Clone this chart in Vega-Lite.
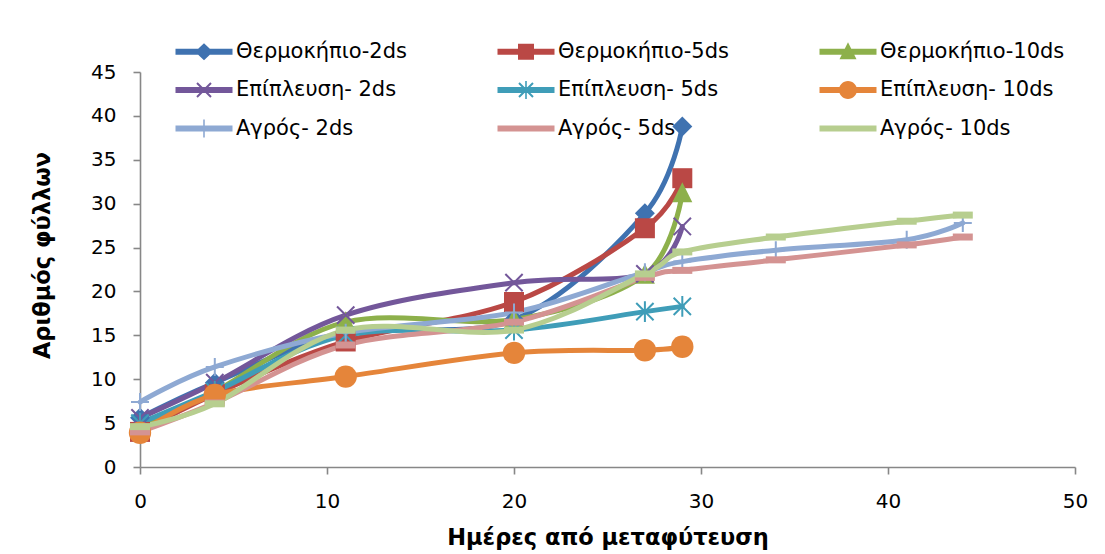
{
  "$schema": "https://vega.github.io/schema/vega-lite/v6.json",
  "width": 935,
  "height": 395,
  "autosize": {"type": "none"},
  "padding": {"left": 140, "top": 72, "right": 30, "bottom": 87},
  "background": "white",
  "config": {
    "view": {"stroke": null},
    "font": "DejaVu Sans",
    "axis": {
      "grid": false,
      "domainColor": "#878787",
      "domainWidth": 1.6,
      "tickColor": "#878787",
      "tickWidth": 1.6,
      "tickSize": 7,
      "labelFont": "DejaVu Sans",
      "labelFontSize": 20,
      "labelColor": "#000000",
      "labelFlush": false,
      "titleFont": "DejaVu Sans",
      "titleFontSize": 22.5,
      "titleFontWeight": "bold",
      "titleColor": "#000000"
    },
    "legend": {
      "labelFont": "DejaVu Sans",
      "labelFontSize": 21,
      "labelColor": "#000000",
      "padding": 0
    }
  },
  "data": {
    "values": [
      {"series": "Θερμοκήπιο-2ds", "day": 0, "leaves": 5.6},
      {"series": "Θερμοκήπιο-2ds", "day": 4, "leaves": 9.6},
      {"series": "Θερμοκήπιο-2ds", "day": 11, "leaves": 15.3},
      {"series": "Θερμοκήπιο-2ds", "day": 20, "leaves": 16.8},
      {"series": "Θερμοκήπιο-2ds", "day": 27, "leaves": 28.9},
      {"series": "Θερμοκήπιο-2ds", "day": 29, "leaves": 38.8},
      {"series": "Θερμοκήπιο-5ds", "day": 0, "leaves": 4.0},
      {"series": "Θερμοκήπιο-5ds", "day": 4, "leaves": 8.3},
      {"series": "Θερμοκήπιο-5ds", "day": 11, "leaves": 14.3},
      {"series": "Θερμοκήπιο-5ds", "day": 20, "leaves": 18.8},
      {"series": "Θερμοκήπιο-5ds", "day": 27, "leaves": 27.2},
      {"series": "Θερμοκήπιο-5ds", "day": 29, "leaves": 32.9},
      {"series": "Θερμοκήπιο-10ds", "day": 0, "leaves": 4.6},
      {"series": "Θερμοκήπιο-10ds", "day": 4, "leaves": 8.6},
      {"series": "Θερμοκήπιο-10ds", "day": 11, "leaves": 16.5},
      {"series": "Θερμοκήπιο-10ds", "day": 20, "leaves": 16.8},
      {"series": "Θερμοκήπιο-10ds", "day": 27, "leaves": 21.9},
      {"series": "Θερμοκήπιο-10ds", "day": 29, "leaves": 31.2},
      {"series": "Επίπλευση- 2ds", "day": 0, "leaves": 5.6},
      {"series": "Επίπλευση- 2ds", "day": 4, "leaves": 9.6},
      {"series": "Επίπλευση- 2ds", "day": 11, "leaves": 17.3},
      {"series": "Επίπλευση- 2ds", "day": 20, "leaves": 21.0},
      {"series": "Επίπλευση- 2ds", "day": 27, "leaves": 22.0},
      {"series": "Επίπλευση- 2ds", "day": 29, "leaves": 27.4},
      {"series": "Επίπλευση- 5ds", "day": 0, "leaves": 5.0},
      {"series": "Επίπλευση- 5ds", "day": 4, "leaves": 8.6},
      {"series": "Επίπλευση- 5ds", "day": 11, "leaves": 15.0},
      {"series": "Επίπλευση- 5ds", "day": 20, "leaves": 15.6},
      {"series": "Επίπλευση- 5ds", "day": 27, "leaves": 17.7},
      {"series": "Επίπλευση- 5ds", "day": 29, "leaves": 18.3},
      {"series": "Επίπλευση- 10ds", "day": 0, "leaves": 3.9},
      {"series": "Επίπλευση- 10ds", "day": 4, "leaves": 8.2},
      {"series": "Επίπλευση- 10ds", "day": 11, "leaves": 10.3},
      {"series": "Επίπλευση- 10ds", "day": 20, "leaves": 13.0},
      {"series": "Επίπλευση- 10ds", "day": 27, "leaves": 13.3},
      {"series": "Επίπλευση- 10ds", "day": 29, "leaves": 13.7},
      {"series": "Αγρός- 2ds", "day": 0, "leaves": 7.4},
      {"series": "Αγρός- 2ds", "day": 4, "leaves": 11.4},
      {"series": "Αγρός- 2ds", "day": 11, "leaves": 15.3},
      {"series": "Αγρός- 2ds", "day": 20, "leaves": 17.6},
      {"series": "Αγρός- 2ds", "day": 27, "leaves": 22.2},
      {"series": "Αγρός- 2ds", "day": 29, "leaves": 23.4},
      {"series": "Αγρός- 2ds", "day": 34, "leaves": 24.7},
      {"series": "Αγρός- 2ds", "day": 41, "leaves": 25.9},
      {"series": "Αγρός- 2ds", "day": 44, "leaves": 27.8},
      {"series": "Αγρός- 5ds", "day": 0, "leaves": 4.0},
      {"series": "Αγρός- 5ds", "day": 4, "leaves": 7.3},
      {"series": "Αγρός- 5ds", "day": 11, "leaves": 13.9},
      {"series": "Αγρός- 5ds", "day": 20, "leaves": 16.5},
      {"series": "Αγρός- 5ds", "day": 27, "leaves": 21.6},
      {"series": "Αγρός- 5ds", "day": 29, "leaves": 22.4},
      {"series": "Αγρός- 5ds", "day": 34, "leaves": 23.6},
      {"series": "Αγρός- 5ds", "day": 41, "leaves": 25.3},
      {"series": "Αγρός- 5ds", "day": 44, "leaves": 26.2},
      {"series": "Αγρός- 10ds", "day": 0, "leaves": 4.6},
      {"series": "Αγρός- 10ds", "day": 4, "leaves": 7.2},
      {"series": "Αγρός- 10ds", "day": 11, "leaves": 15.6},
      {"series": "Αγρός- 10ds", "day": 20, "leaves": 15.6},
      {"series": "Αγρός- 10ds", "day": 27, "leaves": 22.0},
      {"series": "Αγρός- 10ds", "day": 29, "leaves": 24.5},
      {"series": "Αγρός- 10ds", "day": 34, "leaves": 26.2},
      {"series": "Αγρός- 10ds", "day": 41, "leaves": 28.0},
      {"series": "Αγρός- 10ds", "day": 44, "leaves": 28.7}
    ]
  },
  "layer": [
    {
      "mark": {"type": "line", "interpolate": "cardinal", "strokeWidth": 5, "strokeCap": "round"},
      "encoding": {
        "x": {
          "field": "day",
          "type": "quantitative",
          "scale": {"domain": [0, 50], "nice": false, "zero": false},
          "axis": {
            "values": [0, 10, 20, 30, 40, 50],
            "title": "Ημέρες από μεταφύτευση",
            "labelPadding": 17,
            "titlePadding": 15
          }
        },
        "y": {
          "field": "leaves",
          "type": "quantitative",
          "scale": {"domain": [0, 45], "nice": false, "zero": false},
          "axis": {
            "values": [0, 5, 10, 15, 20, 25, 30, 35, 40, 45],
            "title": "Αριθμός φύλλων",
            "labelPadding": 17,
            "titlePadding": 36,
            "titleY": 183
          }
        },
        "stroke": {
          "field": "series",
          "type": "nominal",
          "legend": null,
          "scale": {
            "domain": ["Αγρός- 10ds", "Αγρός- 5ds", "Αγρός- 2ds", "Επίπλευση- 10ds", "Επίπλευση- 5ds", "Επίπλευση- 2ds", "Θερμοκήπιο-10ds", "Θερμοκήπιο-5ds", "Θερμοκήπιο-2ds"],
            "range": ["#B7CE8F", "#D49392", "#8EA9D3", "#E5853A", "#3F9DB8", "#73579A", "#8DB04B", "#BA4845", "#3F72B0"]
          }
        },
        "order": {"field": "day", "type": "quantitative"}
      }
    },
    {
      "transform": [{"filter": "datum.series === 'Θερμοκήπιο-2ds'"}],
      "mark": {"type": "point", "shape": "diamond", "size": 400, "filled": true, "opacity": 1, "color": "#3F72B0"},
      "encoding": {"x": {"field": "day", "type": "quantitative"}, "y": {"field": "leaves", "type": "quantitative"}}
    },
    {
      "transform": [{"filter": "datum.series === 'Θερμοκήπιο-5ds'"}],
      "mark": {"type": "point", "shape": "square", "size": 400, "filled": true, "opacity": 1, "color": "#BA4845"},
      "encoding": {"x": {"field": "day", "type": "quantitative"}, "y": {"field": "leaves", "type": "quantitative"}}
    },
    {
      "transform": [{"filter": "datum.series === 'Θερμοκήπιο-10ds'"}],
      "mark": {"type": "point", "shape": "M0,-1.1L1,0.9H-1Z", "size": 400, "filled": true, "opacity": 1, "color": "#8DB04B"},
      "encoding": {"x": {"field": "day", "type": "quantitative"}, "y": {"field": "leaves", "type": "quantitative"}}
    },
    {
      "transform": [{"filter": "datum.series === 'Επίπλευση- 2ds'"}],
      "mark": {"type": "point", "shape": "M-1,-1L1,1M-1,1L1,-1", "size": 300, "filled": false, "opacity": 1, "stroke": "#73579A", "strokeWidth": 2},
      "encoding": {"x": {"field": "day", "type": "quantitative"}, "y": {"field": "leaves", "type": "quantitative"}}
    },
    {
      "transform": [{"filter": "datum.series === 'Επίπλευση- 5ds'"}],
      "mark": {"type": "point", "shape": "M-1,-1L1,1M-1,1L1,-1M0,-1.2L0,1.2", "size": 300, "filled": false, "opacity": 1, "stroke": "#3F9DB8", "strokeWidth": 2},
      "encoding": {"x": {"field": "day", "type": "quantitative"}, "y": {"field": "leaves", "type": "quantitative"}}
    },
    {
      "transform": [{"filter": "datum.series === 'Επίπλευση- 10ds'"}],
      "mark": {"type": "point", "shape": "circle", "size": 500, "filled": true, "opacity": 1, "color": "#E5853A"},
      "encoding": {"x": {"field": "day", "type": "quantitative"}, "y": {"field": "leaves", "type": "quantitative"}}
    },
    {
      "transform": [{"filter": "datum.series === 'Αγρός- 2ds'"}],
      "mark": {"type": "point", "shape": "M0,-1L0,1M-1,0L1,0", "size": 324, "filled": false, "opacity": 1, "stroke": "#8EA9D3", "strokeWidth": 2},
      "encoding": {"x": {"field": "day", "type": "quantitative"}, "y": {"field": "leaves", "type": "quantitative"}}
    },
    {
      "transform": [{"filter": "datum.series === 'Αγρός- 5ds'"}],
      "mark": {"type": "point", "shape": "M-1,-0.35H1V0.35H-1Z", "size": 400, "filled": true, "opacity": 1, "color": "#D49392"},
      "encoding": {"x": {"field": "day", "type": "quantitative"}, "y": {"field": "leaves", "type": "quantitative"}}
    },
    {
      "transform": [{"filter": "datum.series === 'Αγρός- 10ds'"}],
      "mark": {"type": "point", "shape": "M-1,-0.35H1V0.35H-1Z", "size": 400, "filled": true, "opacity": 1, "color": "#B7CE8F"},
      "encoding": {"x": {"field": "day", "type": "quantitative"}, "y": {"field": "leaves", "type": "quantitative"}}
    },
    {
      "transform": [{"filter": "datum.day === 0"}],
      "mark": {"type": "point", "filled": true, "opacity": 1, "clip": true},
      "encoding": {
        "x": {"datum": -20, "type": "quantitative"},
        "y": {"datum": -20, "type": "quantitative"},
        "color": {
          "field": "series",
          "type": "nominal",
          "scale": {
            "domain": ["Θερμοκήπιο-2ds", "Θερμοκήπιο-5ds", "Θερμοκήπιο-10ds", "Επίπλευση- 2ds", "Επίπλευση- 5ds", "Επίπλευση- 10ds", "Αγρός- 2ds", "Αγρός- 5ds", "Αγρός- 10ds"],
            "range": ["#3F72B0", "#BA4845", "#8DB04B", "#73579A", "#3F9DB8", "#E5853A", "#8EA9D3", "#D49392", "#B7CE8F"]
          },
          "legend": {
            "title": null,
            "orient": "none",
            "direction": "horizontal",
            "legendX": 35,
            "legendY": -31,
            "columns": 3,
            "columnPadding": 90,
            "rowPadding": 16.5,
            "symbolSize": 400,
            "symbolStrokeWidth": 0,
            "labelOffset": 40,
            "labelLimit": 400
          }
        },
        "shape": {
          "field": "series",
          "type": "nominal",
          "scale": {
            "domain": ["Θερμοκήπιο-2ds", "Θερμοκήπιο-5ds", "Θερμοκήπιο-10ds", "Επίπλευση- 2ds", "Επίπλευση- 5ds", "Επίπλευση- 10ds", "Αγρός- 2ds", "Αγρός- 5ds", "Αγρός- 10ds"],
            "range": [
              "M-1,-0.3H4.7V0.3H-1Z M1.85,-0.85L2.75,0L1.85,0.85L0.95,0Z",
              "M-1,-0.3H4.7V0.3H-1Z M1.05,-0.8H2.65V0.8H1.05Z",
              "M-1,-0.3H4.7V0.3H-1Z M1.85,-0.95L2.7,0.75H1Z",
              "M-1,-0.3H4.7V0.3H-1Z M1.22,-0.77L2.62,0.63L2.48,0.77L1.08,-0.63Z M1.22,0.77L1.08,0.63L2.48,-0.77L2.62,-0.63Z",
              "M-1,-0.3H4.7V0.3H-1Z M1.22,-0.77L2.62,0.63L2.48,0.77L1.08,-0.63Z M1.22,0.77L1.08,0.63L2.48,-0.77L2.62,-0.63Z M1.77,-0.9H1.93V0.9H1.77Z",
              "M-1,-0.3H4.7V0.3H-1Z M1.85,-0.9C2.347,-0.9 2.75,-0.497 2.75,0C2.75,0.497 2.347,0.9 1.85,0.9C1.353,0.9 0.95,0.497 0.95,0C0.95,-0.497 1.353,-0.9 1.85,-0.9Z",
              "M-1,-0.3H4.7V0.3H-1Z M1.77,-0.9H1.93V0.9H1.77Z",
              "M-1,-0.3H4.7V0.3H-1Z",
              "M-1,-0.3H4.7V0.3H-1Z"
            ]
          },
          "legend": {
            "title": null,
            "orient": "none",
            "direction": "horizontal",
            "legendX": 35,
            "legendY": -31,
            "columns": 3,
            "columnPadding": 90,
            "rowPadding": 16.5,
            "symbolSize": 400,
            "symbolStrokeWidth": 0,
            "labelOffset": 40,
            "labelLimit": 400
          }
        }
      }
    }
  ]
}
